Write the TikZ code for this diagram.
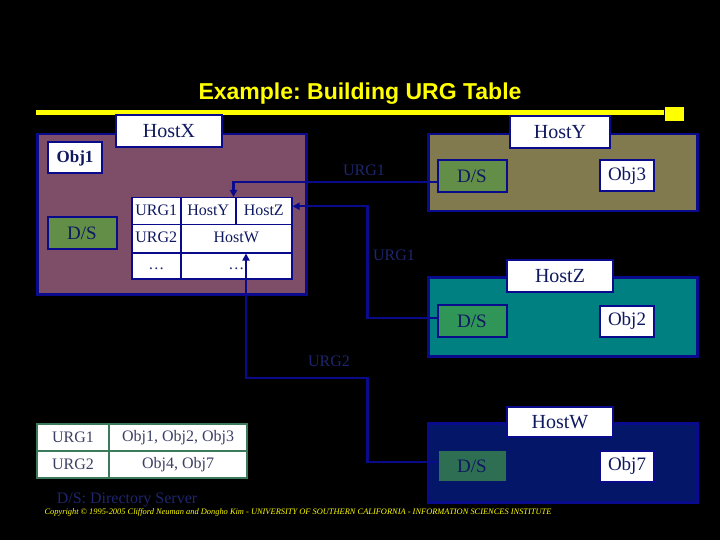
\documentclass[tikz,border=0pt]{standalone}
\usepackage{fontspec}
\setmainfont{Liberation Serif}
\setsansfont{Liberation Sans}
\usetikzlibrary{arrows.meta,positioning,calc}

\definecolor{urgnavy}{RGB}{10,10,140}
\definecolor{txtnavy}{RGB}{15,25,95}
\definecolor{hostxfill}{RGB}{126,78,104}
\definecolor{hostyfill}{RGB}{128,122,78}
\definecolor{hostzfill}{RGB}{0,128,128}
\definecolor{hostwfill}{RGB}{4,22,104}
\definecolor{dsgreen}{RGB}{98,142,72}
\definecolor{dsgreenz}{RGB}{48,150,88}
\definecolor{dsgreenw}{RGB}{46,110,82}
\definecolor{urgtext}{RGB}{30,38,110}
\definecolor{tblborder}{RGB}{60,122,92}
\definecolor{tbltext}{RGB}{60,64,100}
\definecolor{titleyellow}{RGB}{255,255,0}

\begin{document}
\begin{tikzpicture}[
  x=1pt, y=-1pt,
  font=\fontsize{16}{18}\selectfont,
  >=Triangle,
  hostbox/.style={draw=urgnavy, line width=2.5pt, anchor=north west, inner sep=0pt},
  hostlbl/.style={draw=urgnavy, line width=2pt, fill=white, text=txtnavy,
    minimum width=106pt, minimum height=32pt, inner sep=0pt,
    font=\fontsize{20}{22}\selectfont},
  dsbox/.style={draw=urgnavy, line width=2pt, fill=dsgreen, text=txtnavy,
    minimum width=69pt, minimum height=32pt, inner sep=0pt,
    font=\fontsize{19}{21}\selectfont},
  objbox/.style={draw=urgnavy, line width=2pt, fill=white, text=txtnavy,
    minimum width=54pt, minimum height=31pt, inner sep=0pt,
    font=\fontsize{19}{21}\selectfont},
  cell/.style={draw=urgnavy, line width=1.5pt, fill=white, text=txtnavy,
    anchor=north west, inner sep=0pt, text height=11pt, text depth=3pt},
  keycell/.style={draw=tblborder, line width=2pt, fill=white, text=tbltext,
    anchor=north west, inner sep=0pt, minimum height=27pt},
  link/.style={draw=urgnavy, line width=2.2pt, -{Triangle[length=7pt,width=7pt]}},
  urglbl/.style={text=urgtext}
]

% ---- page ----
\fill[black] (0,0) rectangle (720,540);
\useasboundingbox (0,0) rectangle (720,540);

% ---- title and rule ----
\node[text=titleyellow, font=\sffamily\bfseries\fontsize{23}{25}\selectfont] (title) at (360,94) {\frenchspacing Example: Building URG Table};
\node[fill=titleyellow, minimum width=19pt, minimum height=14pt, inner sep=0pt] (mark) at (674,114) {};
\coordinate (rulestart) at (36,113);
\draw[titleyellow, line width=5pt] (rulestart) -- (rulestart -| mark.west);

% ---- hosts ----
\node[hostbox, fill=hostxfill, minimum width=269pt, minimum height=160pt] (hx) at (36,133) {};
\node[hostbox, fill=hostyfill, minimum width=269pt, minimum height=77pt] (hy) at (427,133) {};
\node[hostbox, fill=hostzfill, minimum width=269pt, minimum height=79pt] (hz) at (427,276) {};
\node[hostbox, fill=hostwfill, minimum width=269pt, minimum height=79pt] (hw) at (427,422) {};

\node[hostlbl] (lx) at (169,131) {HostX};
\node[hostlbl, minimum width=100pt] (ly) at (560,132) {HostY};
\node[hostlbl] (lz) at (560,276) {HostZ};
\node[hostlbl, minimum height=30pt] (lw) at (560,422) {HostW};

% ---- objects and directory servers ----
\node[objbox, font=\bfseries\fontsize{17}{19}\selectfont] (obj1) at (75,158) {Obj1};
\node[dsbox] (dsX) at (82,233) {D/S};
\node[dsbox] (dsY) at (472,176) {D/S};
\node[objbox] (obj3) at (627,176) {Obj3};
\node[dsbox, fill=dsgreenz] (dsZ) at (472,321) {D/S};
\node[objbox] (obj2) at (627,321) {Obj2};
\node[dsbox, fill=dsgreenw, draw=hostwfill] (dsW) at (472,466) {D/S};
\node[objbox] (obj7) at (627,466) {Obj7};

% ---- URG table at HostX ----
\node[cell, minimum width=49pt, minimum height=27pt] (cU1) at (131,197) {URG1};
\node[cell, minimum width=55pt, minimum height=27pt] (cHostY) at (180,197) {HostY};
\node[cell, minimum width=56pt, minimum height=27pt] (cHostZ) at (235,197) {HostZ};
\node[cell, minimum width=49pt, minimum height=28pt] (cU2) at (131,224) {URG2};
\node[cell, minimum width=111pt, minimum height=28pt] (cHostW) at (180,224) {HostW};
\node[cell, minimum width=49pt, minimum height=26pt, text=urgtext] (cDots1) at (131,252) {\dots};
\node[cell, minimum width=111pt, minimum height=26pt, text=urgtext] (cDots2) at (180,252) {\dots};

% ---- update links ----
\coordinate (turnW) at (246,378);
\draw[link] ([yshift=-6pt]dsY.west) -| ([xshift=-3pt]cHostY.north east);
\draw[link] ([yshift=3pt]dsZ.west) -- ++(-69,0) |- ([yshift=5pt]cHostZ.east);
\draw[link] ([yshift=4pt]dsW.west) -- ++(-69,0) |- (turnW) -- (turnW |- cHostW.south);

\node[urglbl] (urg1y) at (364,170) {URG1};
\node[urglbl] (urg1z) at (394,255) {URG1};
\node[urglbl] (urg2w) at (329,361) {URG2};

% ---- URG membership table ----
\node[keycell, minimum width=72pt] (kU1) at (36,423) {URG1};
\node[keycell, minimum width=138pt] (kO1) at (108,423) {Obj1, Obj2, Obj3};
\node[keycell, minimum width=72pt] (kU2) at (36,450) {URG2};
\node[keycell, minimum width=138pt] (kO2) at (108,450) {Obj4, Obj7};

\node[urglbl] (legend) at (127,500) {D/S: Directory Server};
\node[text=titleyellow, font=\itshape\fontsize{8.4}{10}\selectfont] (copy) at (298,512)
  {Copyright \textcopyright{} 1995-2005 Clifford Neuman and Dongho Kim - UNIVERSITY OF SOUTHERN CALIFORNIA - INFORMATION SCIENCES INSTITUTE};

\end{tikzpicture}
\end{document}
